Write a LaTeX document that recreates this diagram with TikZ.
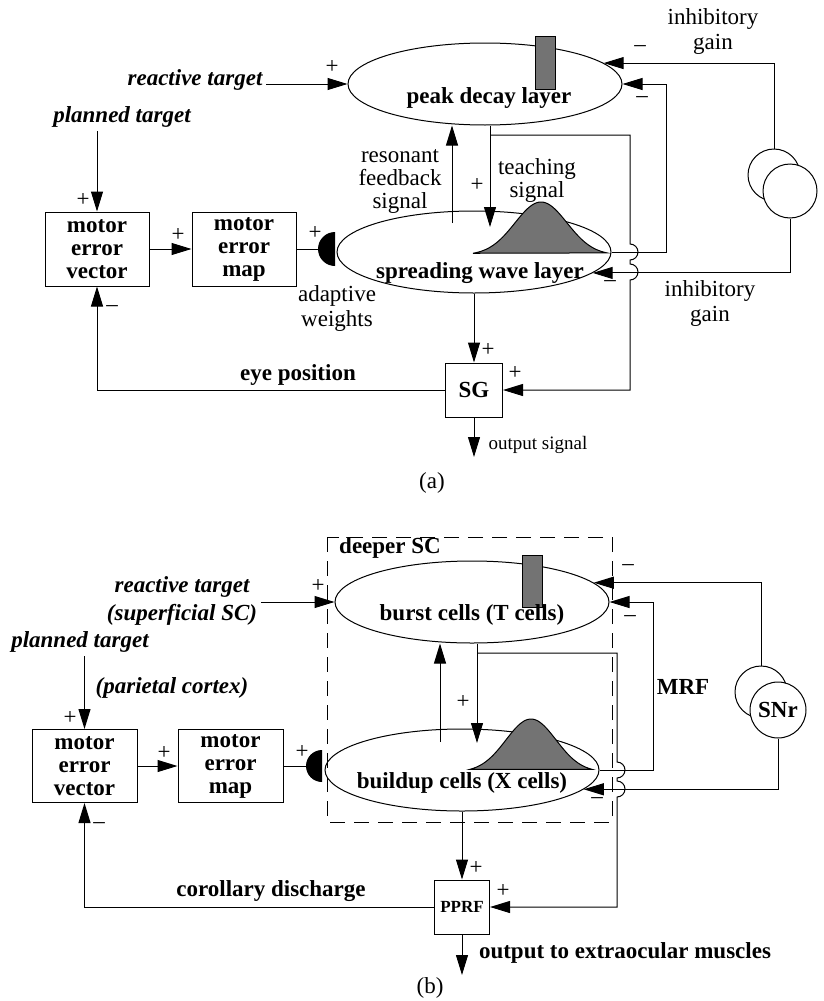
\documentclass[tikz,border=0pt]{standalone}
\usepackage{fontspec}
\setmainfont{Liberation Serif}
\usetikzlibrary{shapes.geometric,arrows.meta}

\tikzset{
  sig/.style={-{Triangle[length=20pt, width=12pt]}},
  layer/.style={draw, ellipse, minimum width=274pt, minimum height=82pt, inner sep=0pt},
  blk/.style={draw, rectangle, align=center, inner sep=0pt, font=\fontsize{23}{23}\selectfont\bfseries},
  cell/.style={draw, circle, fill=white, inner sep=0pt},
  bar/.style={draw, fill=black!55},
  hump/.style={draw, fill=black!55},
  cue/.style={align=center, font=\fontsize{23}{28}\selectfont\bfseries\itshape},
  note/.style={align=center, font=\fontsize{23}{25}\selectfont},
  small/.style={font=\fontsize{19}{19}\selectfont},
}

\begin{document}
\begin{tikzpicture}[x=1pt, y=-1pt, line width=1pt, font=\fontsize{23}{23}\selectfont]
\useasboundingbox (0, 0) rectangle (823, 1001);

% (a)
\node [layer] (peak) at (485, 84) {};
\node [layer] (spread) at (474, 252) {};
\draw [bar] (535, 36) rectangle (555, 89);
\filldraw [hump] plot [domain=473:607, samples=60] (\x, {255-53*exp(-0.5*((\x-541)/26)*((\x-541)/26))}) -- cycle;

\node (pdl) at (489, 98) {\bf peak decay layer};
\node (swl) at (480, 273) {\bf spreading wave layer};

\node [cue] (rta) at (195, 80) {reactive target};
\node [cue] (pta) at (122, 117) {planned target};

\node [blk, minimum width=104pt, minimum height=74pt] (mev) at (97, 249) {motor\\error\\vector};
\node [blk, minimum width=104pt, minimum height=74pt] (mem) at (244, 249) {motor\\error\\map};
\fill (335, 232) arc (-90:-270:17) -- cycle;
\coordinate (syn) at (318, 249);
\node [note] (aw) at (337, 308) {adaptive\\weights};

\node [note, font=\fontsize{23}{23}\selectfont] (rfs) at (400, 182) {resonant\\feedback\\signal};
\node [note, font=\fontsize{23}{23}\selectfont] (tsg) at (537, 180) {teaching\\signal};

\node [cell, minimum size=52pt] (c1a) at (774, 175) {};
\node [cell, minimum size=54pt] (c2a) at (790, 191) {};
\node [note] (iga) at (713, 32) {inhibitory\\gain};
\node [note] (igb) at (710, 303) {inhibitory\\gain};

\node [blk, minimum width=57pt, minimum height=54pt] (sga) at (474, 390) {SG};
\node [small] (osa) at (538, 445) {output signal};
\node (eye) at (298, 375) {\bf eye position};
\node (capa) at (432, 483) {(a)};

\node (pa1) at (332, 67) {+};
\node (pa2) at (83, 200) {+};
\node (pa3) at (178, 235) {+};
\node (pa4) at (315, 233) {+};
\node (pa5) at (477, 185) {+};
\node (pa6) at (488, 350) {+};
\node (pa7) at (515, 373) {+};
\node (ma1) at (640, 49) {\textendash};
\node (ma2) at (642, 100) {\textendash};
\node (ma3) at (610, 284) {\textendash};
\node (ma4) at (112, 309) {\textendash};

\coordinate (fba) at (452, 223);
\coordinate (tta) at (490, 227);
\coordinate (tapa) at (630, 135);
\coordinate (outa) at (474, 457);

\draw [sig] (rta.east |- peak.west) -- (peak.west);
\draw [sig] (mev.north |- pta.south) -- (mev.north);
\draw [sig] (mev.east) -- (mem.west);
\draw (mem.east) -- (syn);
\draw [sig] (fba) -- (fba |- peak.south);
\draw [sig] (tta |- peak.south) -- (tta);
\draw [sig] (tta |- tapa) -- (tapa) -- (630, 244) arc (-90:90:8) -- (630, 264) arc (-90:90:8) |- (sga.east);
\draw [sig] (spread.east) -- ++(55, 0) |- (peak.east);
\draw [sig] (c1a.north) |- (peak.10);
\draw [sig] (c2a.south) |- (spread.350);
\draw [sig] (spread.south) -- (sga.north);
\draw [sig] (sga.west) -| (mev.south);
\draw [sig] (sga.south) -- (outa);

% (b)
\draw [dashed, dash pattern=on 15pt off 9pt] (327, 537) rectangle (612, 822);
\node (dsc) at (390, 548) {\bf deeper SC};

\node [layer] (burst) at (472, 602) {};
\node [layer] (buildup) at (462, 770) {};
\draw [bar] (522, 555) rectangle (542, 607);
\filldraw [hump] plot [domain=470:592, samples=60] (\x, {772-53*exp(-0.5*((\x-531)/25)*((\x-531)/25))}) -- cycle;

\node (btc) at (472, 615) {\bf burst cells (T cells)};
\node (bxc) at (462, 783) {\bf buildup cells (X cells)};

\node [cue] (rtb) at (182, 601) {reactive target\\(superficial SC)};
\node [cue] (ptb) at (80, 642) {planned target};
\node [cue] (pcx) at (172, 688) {(parietal cortex)};

\node [blk, minimum width=105pt, minimum height=73pt] (mevb) at (84.5, 766) {motor\\error\\vector};
\node [blk, minimum width=105pt, minimum height=73pt] (memb) at (230.5, 766) {motor\\error\\map};
\fill (322, 750) arc (-90:-270:16) -- cycle;
\coordinate (synb) at (306, 766);

\node [cell, minimum size=52pt] (c1b) at (761, 692) {};
\node [cell, minimum size=56pt, font=\fontsize{23}{23}\selectfont\bfseries] (c2b) at (778, 710) {SNr};
\node (mrf) at (683, 687) {\bf MRF};

\node [blk, minimum width=55pt, minimum height=54pt, font=\fontsize{17}{17}\selectfont\bfseries] (pprf) at (462, 907) {PPRF};
\node (otm) at (625, 953) {\bf output to extraocular muscles};
\node (cd) at (271, 891) {\bf corollary discharge};
\node (capb) at (430, 988) {(b)};

\node (pb1) at (318, 586) {+};
\node (pb2) at (70, 718) {+};
\node (pb3) at (164, 753) {+};
\node (pb4) at (302, 752) {+};
\node (pb5) at (463, 702) {+};
\node (pb6) at (476, 868) {+};
\node (pb7) at (503, 891) {+};
\node (mb1) at (628, 568) {\textendash};
\node (mb2) at (630, 619) {\textendash};
\node (mb3) at (597, 801) {\textendash};
\node (mb4) at (99, 826) {\textendash};

\coordinate (fbb) at (440, 742);
\coordinate (ttb) at (477, 743);
\coordinate (tapb) at (617, 653);
\coordinate (outb) at (462, 975);

\draw [sig] (rtb.east |- burst.west) -- (burst.west);
\draw [sig] (mevb.north |- ptb.south) -- (mevb.north);
\draw [sig] (mevb.east) -- (memb.west);
\draw (memb.east) -- (synb);
\draw [sig] (fbb) -- (fbb |- burst.south);
\draw [sig] (ttb |- burst.south) -- (ttb);
\draw [sig] (ttb |- tapb) -- (tapb) -- (617, 762) arc (-90:90:8) -- (617, 781) arc (-90:90:8) |- (pprf.east);
\draw [sig] (buildup.east) -- ++(54, 0) |- (burst.east);
\draw [sig] (c1b.north) |- (burst.9);
\draw [sig] (c2b.south) |- (buildup.351);
\draw [sig] (buildup.south) -- (pprf.north);
\draw [sig] (pprf.west) -| (mevb.south);
\draw [sig] (pprf.south) -- (outb);

\end{tikzpicture}
\end{document}
